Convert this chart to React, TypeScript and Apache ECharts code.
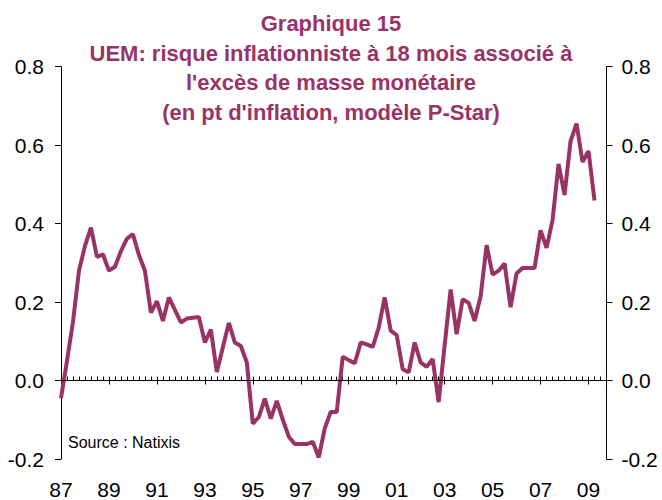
import React, { useEffect, useRef } from "react";
import * as echarts from "echarts";

// Years covered by the quarterly axis (1987Q1 .. 2009Q4)
const years: number[] = [
  1987, 1988, 1989, 1990, 1991, 1992, 1993, 1994, 1995, 1996, 1997, 1998,
  1999, 2000, 2001, 2002, 2003, 2004, 2005, 2006, 2007, 2008, 2009,
];
const quarters: string[] = ["Q1", "Q2", "Q3", "Q4"];

// Tick labels shown every two years
const tickLabels: string[] = ["87", "89", "91", "93", "95", "97", "99", "01", "03", "05", "07", "09"];

// Title lines
const titleLines: string[] = [
  "Graphique 15",
  "UEM: risque inflationniste à 18 mois associé à",
  "l'excès de masse monétaire",
  "(en pt d'inflation, modèle P-Star)",
];

// Inflation risk (pt of inflation), quarterly from 1987Q1 to 2009Q2
const risk: number[] = [
  -0.045, 0.05, 0.15, 0.28, 0.343, 0.39, 0.315, 0.322, 0.28, 0.29,
  0.33, 0.362, 0.373, 0.32, 0.28, 0.173, 0.202, 0.152, 0.212, 0.18,
  0.148, 0.158, 0.16, 0.162, 0.097, 0.13, 0.022, 0.085, 0.147, 0.097,
  0.088, 0.046, -0.11, -0.093, -0.046, -0.097, -0.052, -0.1, -0.143, -0.162,
  -0.162, -0.162, -0.156, -0.196, -0.122, -0.08, -0.08, 0.061, 0.052, 0.044,
  0.097, 0.092, 0.086, 0.135, 0.212, 0.127, 0.116, 0.029, 0.021, 0.097,
  0.046, 0.035, 0.055, -0.055, 0.09, 0.232, 0.118, 0.207, 0.198, 0.152,
  0.215, 0.345, 0.27, 0.28, 0.298, 0.187, 0.273, 0.287, 0.287, 0.287,
  0.383, 0.338, 0.409, 0.552, 0.473, 0.61, 0.655, 0.557, 0.585, 0.459,
];

const categories: string[] = [];
years.forEach((y) => quarters.forEach((q) => categories.push(`${y}${q}`)));

const FONT = "'Liberation Sans', Arial, sans-serif";
const PLUM = "#993366";

export default function App() {
  const ref = useRef<HTMLDivElement>(null);
  useEffect(() => {
    if (!ref.current) return;
    const chart = echarts.init(ref.current, null, { renderer: "svg" });
    const labelFor = (value: string) => {
      const idx = categories.indexOf(value);
      if (idx % 8 !== 0) return "";
      return tickLabels[idx / 8] ?? "";
    };
    const yAxisBase = {
      type: "value" as const,
      min: -0.2,
      max: 0.8,
      interval: 0.2,
      splitLine: { show: false },
      axisLine: { show: true, lineStyle: { color: "#000", width: 1 } },
      axisTick: { show: true, inside: false, length: 6, lineStyle: { color: "#000" } },
      axisLabel: {
        color: "#000",
        fontSize: 21,
        fontFamily: FONT,
        formatter: (v: number) => v.toFixed(1),
      },
    };
    chart.setOption({
      animation: false,
      backgroundColor: "#fff",
      grid: { left: 61, right: 55.5, top: 66.7, bottom: 37.7, containLabel: false },
      xAxis: [
        {
          type: "category",
          data: categories,
          boundaryGap: false,
          position: "bottom",
          axisLine: { show: true, lineStyle: { color: "#000", width: 1 } },
          axisTick: { show: true, interval: 0, inside: true, length: 4, lineStyle: { color: "#000" } },
          axisLabel: {
            interval: 7,
            margin: 20,
            color: "#000",
            fontSize: 21,
            fontFamily: FONT,
            formatter: labelFor,
          },
          splitLine: { show: false },
        },
        {
          type: "category",
          data: categories,
          boundaryGap: false,
          position: "bottom",
          axisLine: { show: false },
          axisTick: { show: true, interval: 7, inside: false, length: 4, lineStyle: { color: "#000" } },
          axisLabel: { show: false },
          splitLine: { show: false },
        },
      ],
      yAxis: [
        { ...yAxisBase, position: "left", axisLabel: { ...yAxisBase.axisLabel, margin: 17 } },
        { ...yAxisBase, position: "right", axisLabel: { ...yAxisBase.axisLabel, margin: 15 } },
      ],
      graphic: [
        {
          type: "text",
          x: 331,
          y: 9,
          z: 10,
          style: {
            text: titleLines.join("\n"),
            fill: PLUM,
            fontSize: 22,
            fontWeight: "bold",
            fontFamily: FONT,
            lineHeight: 29.5,
            align: "center",
            verticalAlign: "top",
          },
        },
        {
          type: "text",
          left: 68,
          top: 434,
          style: { text: "Source : Natixis", fill: "#000", fontSize: 16, fontFamily: FONT },
        },
      ],
      series: [
        {
          type: "line",
          data: risk,
          xAxisIndex: 0,
          yAxisIndex: 0,
          symbol: "none",
          lineStyle: { color: PLUM, width: 4 },
          itemStyle: { color: PLUM },
          markLine: {
            silent: true,
            symbol: "none",
            label: { show: false },
            lineStyle: { color: "#000", width: 1, type: "solid" },
            data: [{ yAxis: 0 }],
          },
          z: 3,
        },
      ],
    });
    return () => chart.dispose();
  }, []);
  return (
    <div
      ref={ref}
      style={{ position: "fixed", left: 0, top: 0, width: 662, height: 500 }}
    />
  );
}
